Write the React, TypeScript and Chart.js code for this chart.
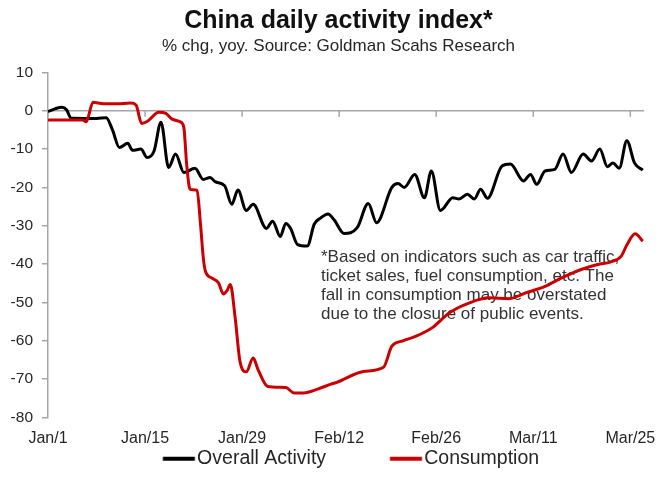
import React, { useEffect, useRef } from "react";
import { Chart, registerables } from "chart.js";

Chart.register(...registerables);

const FONT = '"Liberation Sans", Arial, Helvetica, sans-serif';

// x is day index counted from Jan/1
const tickDays = [0, 14, 28, 42, 56, 70, 84];
const tickLabels = ["Jan/1", "Jan/15", "Jan/29", "Feb/12", "Feb/26", "Mar/11", "Mar/25"];

const overallDays = [
  0, 1, 2, 2.7, 3.3, 5, 7, 8.4, 9.3, 10.3, 11.5, 12.2, 13.4, 14.3, 15.3, 16.3, 17.4, 18.4, 19.6,
  21.2, 22.4, 23.4, 24.1, 25.5, 26.5, 27.4, 28.6, 29.6, 31.5, 32.4, 33.5, 34.3, 35, 36, 37.4, 38.4,
  39.3, 40.4, 41.3, 42.7, 44.6, 46.2, 47.4, 49.6, 50.5, 51.4, 52.9, 54.3, 55.3, 56.6, 58.4, 59.3,
  60.5, 61.5, 62.4, 63.4, 65.5, 66.7, 68.6, 69.6, 70.5, 71.7, 73.1, 74.3, 75.5, 77.2, 78.4, 79.6,
  80.7, 81.5, 82.4, 83.5, 84.6, 85.8,
];
const overallValues = [
  -0.2, 0.5, 0.9, 0.2, -1.9, -2, -2, -1.8, -5, -9.6, -8.5, -10.3, -10, -12.2, -10.5, -3, -14.8, -11.3, -16.1,
  -15, -17.9, -17.4, -18.5, -19.6, -24.4, -20.7, -26, -24.4, -30.7, -28.8, -32.8, -29.4, -30.7, -34.9, -35.3, -29.6,
  -28, -26.9, -28.5, -32, -30.5, -24.2, -29.2, -20, -19, -20, -16.6, -22.7, -15.7, -26, -22.7, -23,
  -21.8, -23, -20.5, -22.8, -14.4, -13.9, -18.3, -16.6, -19.2, -15.7, -15.3, -11.3, -16.1, -11.3, -13.1, -10,
  -14.6, -13.6, -15, -7.8, -13.6, -15.5,
];

const consumptionDays = [
  0, 5, 5.5, 6.5, 8, 10, 11.9, 12.7, 13.5, 14.3, 16, 17, 17.9, 19.1, 19.6, 20, 20.5, 21.5, 22, 22.4,
  22.7, 23.6, 24.6, 25.3, 25.8, 26.3, 27, 27.7, 28.6, 29.6, 30.3, 31.7, 34.3, 35.5, 36.9, 38.9, 40.8,
  41.7, 45.5, 48.4, 49.6, 51.2, 53.1, 55.5, 57.9, 60.8, 63.6, 66.5, 68.9, 71.7, 74.1, 76.9, 79.3,
  81.2, 82.7, 83.5, 84.7, 85.8,
];
const consumptionValues = [
  -2.4, -2.4, -2.9, 2.2, 1.8, 1.8, 2.0, 1.5, -3.3, -2.8, -0.4, -0.7, -2.2, -2.9, -4.4, -13.9, -20.5, -20.7, -29.6, -38.3,
  -41.8, -43.6, -44.9, -47.8, -47, -45.3, -54, -65.4, -68.1, -64.5, -67.5, -71.9, -72.2, -73.6, -73.6, -72.6, -71.3,
  -70.8, -68, -66.9, -61.4, -60, -58.8, -56.5, -52.7, -50.1, -48.8, -49, -47.5, -45.8, -43.6, -41.4, -40.1,
  -39.4, -37.9, -35, -32.1, -34,
];

const titleText = "China daily activity index*";
const subtitleText = "% chg, yoy. Source: Goldman Scahs Research";
const seriesNames = ["Overall Activity", "Consumption"];
const noteLines = [
  "*Based on indicators such as car traffic,",
  "ticket sales, fuel consumption, etc. The",
  "fall in consumption may be overstated",
  "due to the closure of public events.",
];

const BLACK = "#000000";
const RED = "#cc0000";
const AXIS = "#a6a6a6";
const TEXT = "#262626";

const SWATCH_BOX = 49.5; // legend pointStyleWidth
const SWATCH_START = 25; // line start inside the legend box
const SWATCH_LEN = 32;

function swatch(color: string) {
  // image is centred on the legend box
  const w = 100;
  const c = document.createElement("canvas");
  c.width = w;
  c.height = 8;
  const g = c.getContext("2d")!;
  const left = w / 2 - SWATCH_BOX / 2;
  g.strokeStyle = color;
  g.lineWidth = 4;
  g.beginPath();
  g.moveTo(left + SWATCH_START, 4);
  g.lineTo(left + SWATCH_START + SWATCH_LEN, 4);
  g.stroke();
  return c;
}

function tickLabel(v: number) {
  const i = tickDays.indexOf(v);
  return i >= 0 ? tickLabels[i] : "";
}

// note text under the lines, plus tick marks on the zero line
const decorPlugin = {
  id: "decor",
  beforeDatasetsDraw(chart: any) {
    const ctx = chart.ctx;
    const xs = chart.scales.x;
    const ys = chart.scales.y;
    ctx.save();
    const y0 = ys.getPixelForValue(0);
    ctx.strokeStyle = AXIS;
    ctx.lineWidth = 1.5;
    tickDays.forEach((d) => {
      const px = xs.getPixelForValue(d);
      ctx.beginPath();
      ctx.moveTo(px, y0);
      ctx.lineTo(px, y0 + 6);
      ctx.stroke();
    });
    ctx.font = `17px ${FONT}`;
    ctx.fillStyle = "#333333";
    ctx.textAlign = "left";
    ctx.textBaseline = "middle";
    noteLines.forEach((line, i) => ctx.fillText(line, 321, 257 + i * 19.2));
    ctx.restore();
  },
};

export default function App() {
  const ref = useRef<HTMLCanvasElement>(null);

  useEffect(() => {
    if (!ref.current) return;
    const chart = new Chart(ref.current, {
      type: "line",
      data: {
        datasets: [
          {
            label: seriesNames[0],
            data: overallDays.map((d, i) => ({ x: d, y: overallValues[i] })),
            borderColor: BLACK,
            backgroundColor: BLACK,
            borderWidth: 3,
            pointRadius: 0,
            pointStyle: swatch(BLACK) as any,
            cubicInterpolationMode: "monotone",
            order: 1,
          },
          {
            label: seriesNames[1],
            data: consumptionDays.map((d, i) => ({ x: d, y: consumptionValues[i] })),
            borderColor: RED,
            backgroundColor: RED,
            borderWidth: 3,
            pointRadius: 0,
            pointStyle: swatch(RED) as any,
            cubicInterpolationMode: "monotone",
            order: 0,
          },
        ],
      },
      options: {
        animation: false,
        responsive: true,
        maintainAspectRatio: false,
        layout: { padding: { left: 10, right: 0, top: 0, bottom: 16.5 } },
        scales: {
          x: {
            type: "linear",
            min: 0,
            max: 86,
            position: "bottom",
            border: { display: false },
            grid: { display: false, drawTicks: false, tickLength: 0 },
            ticks: {
              stepSize: 14,
              includeBounds: false,
              autoSkip: false,
              maxRotation: 0,
              padding: 11.4,
              color: TEXT,
              font: { family: FONT, size: 16 },
              callback: (v: any) => tickLabel(Number(v)),
            } as any,
            afterFit: (s: any) => {
              s.height = 30.5;
            },
          },
          y: {
            type: "linear",
            min: -80,
            max: 10,
            position: "left",
            border: { display: true, color: AXIS, width: 1.5 },
            grid: {
              drawOnChartArea: true,
              drawTicks: true,
              tickLength: 6,
              lineWidth: 1.5,
              tickColor: AXIS,
              color: (c: any) => (c.tick && c.tick.value === 0 ? AXIS : "rgba(0,0,0,0)"),
            },
            ticks: {
              stepSize: 10,
              padding: 9,
              color: TEXT,
              font: { family: FONT, size: 15.5 },
            },
            afterFit: (s: any) => {
              s.width = 38;
            },
          },
          yr: {
            type: "linear",
            min: -80,
            max: 10,
            position: "right",
            border: { display: false },
            grid: { display: false },
            ticks: { display: false },
            afterFit: (s: any) => {
              s.width = 17;
            },
          },
        },
        plugins: {
          title: {
            display: true,
            text: titleText,
            color: "#111111",
            font: { family: FONT, size: 25, weight: "bold" },
            padding: { top: 6, bottom: 0 },
          },
          subtitle: {
            display: true,
            text: subtitleText,
            color: TEXT,
            font: { family: FONT, size: 17 },
            padding: { top: 0, bottom: 16 },
          },
          legend: {
            display: true,
            position: "bottom",
            labels: {
              usePointStyle: true,
              pointStyleWidth: SWATCH_BOX,
              padding: 1,
              color: TEXT,
              font: { family: FONT, size: 19.5 },
              sort: (a: any, b: any) => a.datasetIndex - b.datasetIndex,
              generateLabels: (chart: any) => {
                const items = Chart.defaults.plugins.legend.labels.generateLabels(chart);
                // trailing room on the first entry keeps the legend row left of centre, as in the source
                return items.map((it: any) => ({
                  ...it,
                  text: it.datasetIndex === 0 ? it.text + "       " : it.text,
                }));
              },
            } as any,
          },
          tooltip: { enabled: false },
        },
      },
      plugins: [decorPlugin],
    });
    return () => chart.destroy();
  }, []);

  return (
    <div style={{ position: "fixed", left: 0, top: 0, width: 667, height: 495, background: "#fff" }}>
      <canvas ref={ref} />
    </div>
  );
}
